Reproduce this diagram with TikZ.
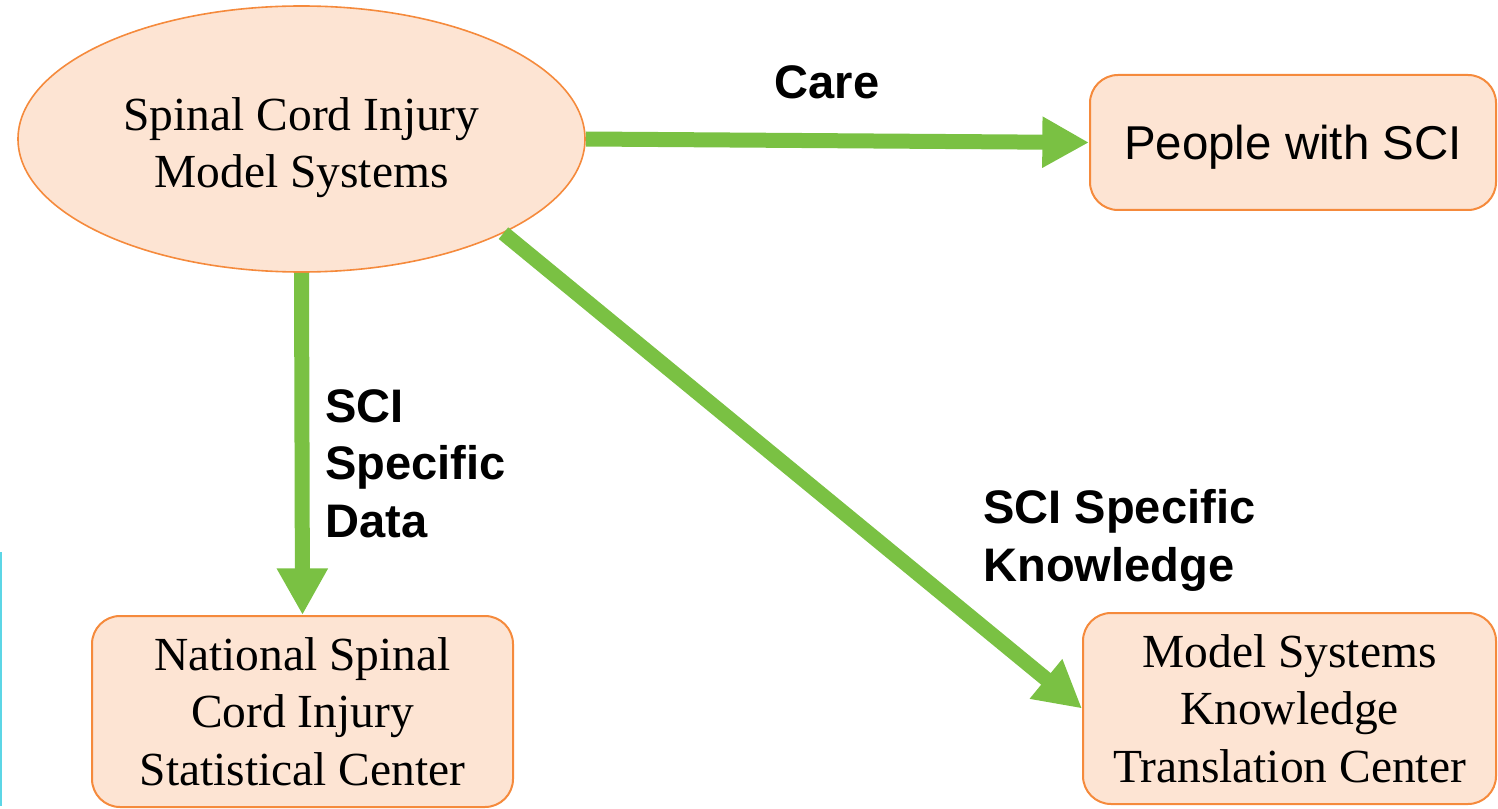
\documentclass[tikz,border=0pt]{standalone}
\usepackage{fontspec}
\setmainfont{Liberation Serif}
\newfontfamily\arialfont{Liberation Sans}
\usetikzlibrary{shapes.geometric,arrows.meta}
\definecolor{peach}{HTML}{FDE4D3}
\definecolor{orangeline}{HTML}{F58A3C}
\definecolor{arrowgreen}{HTML}{7AC143}
\definecolor{edgecyan}{HTML}{5CD6E6}
\tikzset{
  textfont/.style={font=\fontsize{35.6pt}{43.1pt}\selectfont},
  box/.style={draw=orangeline, fill=peach, line width=1.5pt, rounded corners=21pt,
    inner sep=0pt, align=center, textfont},
  ellbox/.style={ellipse, draw=orangeline, fill=peach, line width=1.2pt,
    inner sep=0pt, align=center, textfont},
  lbl/.style={inner sep=0pt, font=\arialfont\bfseries\fontsize{35.3pt}{43.1pt}\selectfont},
  flow/.style={draw=arrowgreen, line width=11.25pt, -{Triangle[length=35pt,width=36pt]}},
}
\begin{document}
\begin{tikzpicture}[x=0.75pt,y=-0.75pt]
\useasboundingbox (0,0) rectangle (1498,809);
\draw[edgecyan, line width=1.5pt] (1,552) -- (1,806);
\node[ellbox, minimum width=425.25pt, minimum height=199.5pt, text height=73.5pt, text depth=0pt] (ell) at (301.5,139) {Spinal Cord Injury\\Model Systems};
\node[box, minimum width=304.5pt, minimum height=101.25pt, text depth=0pt, font=\arialfont\fontsize{35.6pt}{43.1pt}\selectfont] (people) at (1293,142.5) {People with SCI};
\node[box, minimum width=315.75pt, minimum height=143.25pt] (nat) at (302.5,711.5) {National Spinal\\Cord Injury\\Statistical Center};
\node[box, minimum width=309.75pt, minimum height=143.25pt] (model) at (1289.5,708.5) {Model Systems\\Knowledge\\Translation Center};
\draw[flow] (ell.east) -- (people.west);
\draw[flow] (ell.south) -- (nat.north);
\draw[flow] (ell.-25) -- (model.west);
\node[lbl, anchor=base] (care) at (827,99) {Care};
\node[lbl, anchor=base west, align=left] (data) at (325,537) {SCI\\Specific\\Data};
\node[lbl, anchor=base west, align=left] (know) at (983,581) {SCI Specific\\Knowledge};
\end{tikzpicture}
\end{document}
